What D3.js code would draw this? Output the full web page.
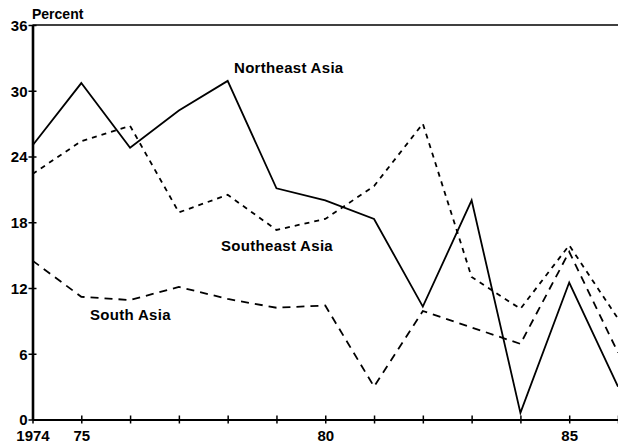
<!DOCTYPE html>
<html>
<head>
<meta charset="utf-8">
<script src="https://cdn.jsdelivr.net/npm/d3@7"></script>
<style>
  html, body { margin: 0; padding: 0; background: #fff; }
  svg { display: block; }
  text { font-family: "Liberation Sans", Arial, sans-serif; font-weight: bold; fill: #000; }
</style>
</head>
<body>
<svg id="chart" width="618" height="447"></svg>
<script>
// Annual shares, percent
const years = [1974, 1975, 1976, 1977, 1978, 1979, 1980, 1981, 1982, 1983, 1984, 1985, 1986];
const northeastAsia = [25.0, 30.7, 24.8, 28.2, 30.9, 21.1, 20.0, 18.3, 10.3, 20.0, 0.6, 12.5, 3.0];
const southeastAsia = [22.4, 25.4, 26.8, 18.9, 20.5, 17.3, 18.3, 21.3, 27.0, 13.0, 10.1, 15.9, 9.2];
const southAsia = [14.5, 11.2, 10.9, 12.1, 11.0, 10.2, 10.4, 3.0, 9.9, 8.4, 6.9, 15.3, 6.1];

const yTicks = [0, 6, 12, 18, 24, 30, 36];
const xTickLabels = { 1974: "1974", 1975: "75", 1980: "80", 1985: "85" };

const svg = d3.select("#chart");

const x = d3.scaleLinear().domain([1974, 1986]).range([32.5, 618]);
const y = d3.scaleLinear().domain([0, 36]).range([419.5, 25]);

// top frame line
svg.append("line")
  .attr("x1", x(1974)).attr("x2", 618)
  .attr("y1", y(36)).attr("y2", y(36))
  .attr("stroke", "#000").attr("stroke-width", 1.6);

// y axis
const yAxis = svg.append("g")
  .attr("transform", `translate(${x(1974)},0)`)
  .call(d3.axisLeft(y).tickValues(yTicks).tickSize(0).tickPadding(5));
yAxis.select(".domain").attr("stroke", "#000").attr("stroke-width", 2.6);
yAxis.selectAll(".tick line").attr("x1", -4).attr("x2", 4)
  .attr("stroke", "#000").attr("stroke-width", 1.5);
yAxis.selectAll(".tick text")
  .attr("font-size", 15).attr("font-family", null)
  .attr("dy", "0.36em");

// x axis
const xAxis = svg.append("g")
  .attr("transform", `translate(0,${y(0)})`)
  .call(d3.axisBottom(x).tickValues(years).tickSize(0).tickPadding(11)
    .tickFormat(d => xTickLabels[d] || ""));
xAxis.select(".domain").attr("stroke", "#000").attr("stroke-width", 2.2);
xAxis.selectAll(".tick line").attr("y1", -4).attr("y2", 4)
  .attr("stroke", "#000").attr("stroke-width", 1.5);
xAxis.selectAll(".tick text")
  .attr("font-size", 15).attr("font-family", null);

// series lines
const series = [
  { name: "Northeast Asia", values: northeastAsia, dash: null },
  { name: "Southeast Asia", values: southeastAsia, dash: "5,5" },
  { name: "South Asia", values: southAsia, dash: "8,6" }
];

const line = d3.line()
  .x((d, i) => x(years[i]))
  .y(d => y(d));

svg.append("g").selectAll("path")
  .data(series)
  .join("path")
  .attr("d", s => line(s.values))
  .attr("fill", "none")
  .attr("stroke", "#000")
  .attr("stroke-width", 1.8)
  .attr("stroke-linejoin", "miter")
  .attr("stroke-dasharray", s => s.dash);

// labels
svg.append("text").attr("x", 32).attr("y", 19)
  .attr("font-size", 14).text("Percent");

const labels = [
  { text: "Northeast Asia", x: 234, y: 72.5 },
  { text: "Southeast Asia", x: 221, y: 250.5 },
  { text: "South Asia", x: 90, y: 320 }
];
svg.append("g").selectAll("text")
  .data(labels)
  .join("text")
  .attr("x", d => d.x).attr("y", d => d.y)
  .attr("font-size", 15)
  .attr("letter-spacing", 0.3)
  .text(d => d.text);
</script>
</body>
</html>
